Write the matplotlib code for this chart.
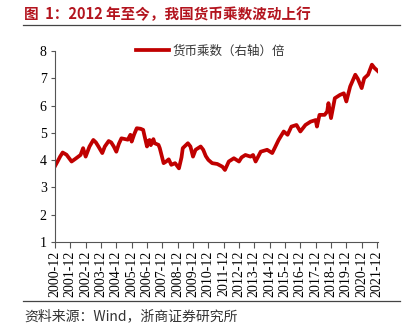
import matplotlib
matplotlib.use("Agg")
import matplotlib.pyplot as plt

plt.rcParams['font.family'] = ['Liberation Serif', 'Noto Sans CJK SC']

# months counted from 2000-12
months = [0, 2, 4, 6, 9, 13, 16, 20, 22, 24, 27, 30, 32, 34, 37, 39, 42, 44,
          46, 48, 50, 52, 54, 57, 59, 60, 62, 64, 67, 69, 70, 72, 73, 74, 75,
          77, 78, 81, 82, 85, 87, 89, 91, 94, 97, 99, 100, 104, 106, 108, 110,
          114, 116, 118, 120, 123, 127, 131, 133, 136, 140, 144, 146, 149,
          153, 155, 157, 161, 166, 170, 172, 175, 179, 182, 185, 189, 192,
          196, 200, 204, 205, 207, 211, 213, 214, 216, 219, 223, 226, 228,
          231, 235, 237, 240, 242, 245, 248, 250, 253]
multiplier = [3.78, 3.95, 4.13, 4.28, 4.2, 3.95, 4.05, 4.19, 4.44, 4.13, 4.5,
              4.74, 4.65, 4.5, 4.26, 4.5, 4.7, 4.65, 4.5, 4.31, 4.6, 4.8, 4.78,
              4.75, 4.93, 4.68, 4.95, 5.17, 5.15, 5.11, 4.9, 4.5, 4.7, 4.74,
              4.55, 4.77, 4.62, 4.56, 4.44, 3.89, 3.95, 4.03, 3.83, 3.89, 3.7,
              4.1, 4.44, 4.62, 4.5, 4.13, 4.38, 4.5, 4.38, 4.15, 4.01, 3.89,
              3.86, 3.76, 3.64, 3.95, 4.07, 3.95, 4.1, 4.19, 4.13, 4.19, 3.95,
              4.31, 4.38, 4.26, 4.45, 4.74, 5.05, 4.93, 5.23, 5.29, 5.05, 5.29,
              5.41, 5.47, 5.23, 5.66, 5.66, 5.78, 6.09, 5.54, 6.27, 6.39, 6.45,
              6.15, 6.7, 7.13, 6.98, 6.64, 7.0, 7.13, 7.5, 7.38, 7.25]

tick_months = list(range(0, 253, 12))
tick_labels = [f"{y}-12" for y in range(2000, 2022)]

fig = plt.figure(figsize=(4.11, 3.34), dpi=100)
ax = fig.add_axes([0.1338, 0.2754, 0.7866, 0.5719])

ax.plot(months, multiplier, color="#c00000", lw=2.7, label="货币乘数（右轴）倍")

ax.set_xlim(0, 253)
ax.set_ylim(1, 8)
ax.set_yticks(range(1, 9))
ax.set_xticks(tick_months)
ax.set_xticklabels(tick_labels, rotation=90, fontsize=10)
ax.tick_params(axis='y', labelsize=10, length=3, width=0.8, color="#555555", pad=3)
ax.tick_params(axis='x', length=4, width=0.8, color="#555555", pad=2)
for s in ["top", "right"]:
    ax.spines[s].set_visible(False)
for s in ["left", "bottom"]:
    ax.spines[s].set_color("#555555")
    ax.spines[s].set_linewidth(0.8)

leg = ax.legend(loc="upper left", bbox_to_anchor=(0.252, 1.035), frameon=False,
                fontsize=9, handlelength=2.6, handletextpad=0.3,
                borderpad=0, borderaxespad=0)
for t in leg.get_texts():
    t.set_color("#333333")
    t.set_family(['Noto Sans CJK SC', 'DejaVu Sans'])

fig.text(24 / 411, 1 - 14 / 334, "图  1：2012 年至今，我国货币乘数波动上行",
         fontsize=10.5, fontweight="bold", color="#b3141e", va="center",
         family=['Noto Sans CJK SC', 'DejaVu Sans'])
fig.add_artist(plt.Line2D([23 / 411, 400 / 411], [1 - 25 / 334] * 2,
                          color="#444444", lw=0.9))
fig.add_artist(plt.Line2D([23 / 411, 400 / 411], [1 - 301 / 334] * 2,
                          color="#444444", lw=0.9))
fig.text(24 / 411, 1 - 316 / 334, "资料来源：Wind，浙商证券研究所",
         fontsize=10, color="#333333", va="center",
         family=['Noto Sans CJK SC', 'DejaVu Sans'])

plt.savefig("out.png", dpi=100)
